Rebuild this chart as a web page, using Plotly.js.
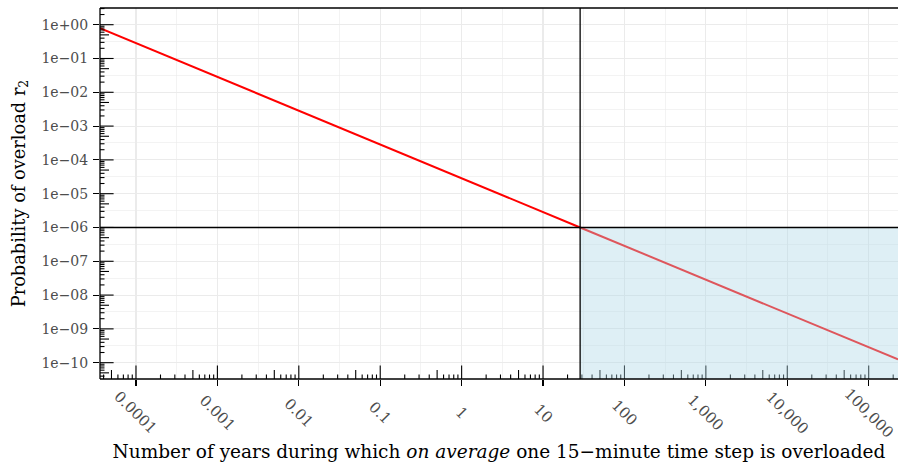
<!DOCTYPE html>
<html>
<head>
<meta charset="utf-8">
<script src="https://cdn.plot.ly/plotly-3.0.1.min.js"></script>
<style>html,body{margin:0;padding:0;background:#fff;}#chart{width:898px;height:468px;}</style>
</head>
<body>
<div id="chart"></div>
<script>
// Values
const lowYears = [3.61e-5, 28.54];      // years, red segment (left of threshold)
const lowProb  = [0.79, 1e-6];          // probability
const highYears = [28.54, 2.29e5];      // years, segment inside shaded region
const highProb  = [1e-6, 1.246e-10];
const thresholdYears = 28.54;           // vertical reference line
const thresholdProb = 1e-6;             // horizontal reference line
const xTickVals = [1e-4, 1e-3, 1e-2, 1e-1, 1, 10, 100, 1e3, 1e4, 1e5];
const xTickText = ["0.0001", "0.001", "0.01", "0.1", "1", "10", "100", "1,000", "10,000", "100,000"];
const yTickVals = [1, 1e-1, 1e-2, 1e-3, 1e-4, 1e-5, 1e-6, 1e-7, 1e-8, 1e-9, 1e-10];
const yTickText = ["1e+00", "1e\u221201", "1e\u221202", "1e\u221203", "1e\u221204", "1e\u221205", "1e\u221206", "1e\u221207", "1e\u221208", "1e\u221209", "1e\u221210"];

const xRange = [-4.442, 5.36];
const yRange = [-10.483, 0.494];
const serif = "DejaVu Serif";

const traces = [
  {x: lowYears, y: lowProb, mode: "lines", line: {color: "#FF0000", width: 2}, hoverinfo: "skip", showlegend: false},
  {x: highYears, y: highProb, mode: "lines", line: {color: "#FF0000", width: 2}, hoverinfo: "skip", showlegend: false}
];

const shapes = [];
// annotation_logticks style ticks (inside panel)
function tickLen(k) { return k === 1 ? 13.6 : (k === 5 ? 9 : 4.5); }
for (let n = -5; n <= 5; n++) {
  for (let k = 1; k <= 9; k++) {
    const v = k * Math.pow(10, n);
    const lv = Math.log10(v);
    if (lv < xRange[0] || lv > xRange[1]) continue;
    shapes.push({type: "line", xref: "x", yref: "paper", ysizemode: "pixel", yanchor: 0,
      x0: v, x1: v, y0: 0, y1: tickLen(k), line: {color: "#000", width: 1.1}, layer: "above"});
  }
}
for (let n = -11; n <= 0; n++) {
  for (let k = 1; k <= 9; k++) {
    const v = k * Math.pow(10, n);
    const lv = Math.log10(v);
    if (lv < yRange[0] || lv > yRange[1]) continue;
    shapes.push({type: "line", yref: "y", xref: "paper", xsizemode: "pixel", xanchor: 0,
      y0: v, y1: v, x0: 0, x1: tickLen(k), line: {color: "#000", width: 1.1}, layer: "above"});
  }
}
// shaded region (drawn above, semi-transparent)
shapes.push({type: "rect", xref: "x", yref: "y", x0: thresholdYears, x1: 1e7, y0: 1e-12, y1: thresholdProb,
  fillcolor: "rgba(173,216,230,0.4)", line: {width: 0}, layer: "above"});
// reference lines
shapes.push({type: "line", xref: "x", yref: "paper", x0: thresholdYears, x1: thresholdYears, y0: 0, y1: 1,
  line: {color: "#000", width: 1.3}, layer: "above"});
shapes.push({type: "line", xref: "paper", yref: "y", x0: 0, x1: 1, y0: thresholdProb, y1: thresholdProb,
  line: {color: "#000", width: 1.3}, layer: "above"});
// panel border
shapes.push({type: "line", xref: "paper", yref: "paper", x0: 0, x1: 1, y0: 0, y1: 0, line: {color: "#000", width: 1.3}, layer: "above"});
shapes.push({type: "line", xref: "paper", yref: "paper", x0: 0, x1: 1, y0: 1, y1: 1, line: {color: "#000", width: 1.3}, layer: "above"});
shapes.push({type: "line", xref: "paper", yref: "paper", x0: 0, x1: 0, y0: 0, y1: 1, line: {color: "#000", width: 1.3}, layer: "above"});

const annotations = xTickVals.map((v, i) => ({
  x: Math.log10(v), xref: "x", y: 0, yref: "paper", yshift: -34,
  xanchor: "center", yanchor: "middle", textangle: 45, showarrow: false,
  text: xTickText[i], font: {family: serif, size: 15, color: "#4D4D4D"}
}));

const minorX = [], minorY = [];
for (let n = -5; n <= 5; n++) minorX.push(Math.pow(10, n + 0.5));
for (let n = -11; n <= 0; n++) minorY.push(Math.pow(10, n + 0.5));

const layout = {
  width: 898, height: 468,
  margin: {l: 100, r: 0, t: 8, b: 89},
  paper_bgcolor: "#fff", plot_bgcolor: "#fff",
  showlegend: false,
  font: {family: serif},
  xaxis: {
    type: "log", range: xRange, tickmode: "array", tickvals: xTickVals, ticktext: xTickText,
    showticklabels: false, ticks: "outside", ticklen: 6, tickwidth: 1.1, tickcolor: "#000",
    showgrid: true, gridcolor: "#EBEBEB", gridwidth: 1.1, zeroline: false, showline: false,
    minor: {tickmode: "array", tickvals: minorX, ticks: "", showgrid: true, gridcolor: "#EBEBEB", gridwidth: 0.6},
    title: {text: "Number of years during which <i>on average</i> one 15\u2212minute time step is overloaded",
      font: {family: serif, size: 18.5, color: "#000"}, standoff: 60}
  },
  yaxis: {
    type: "log", range: yRange, tickmode: "array", tickvals: yTickVals, ticktext: yTickText,
    ticks: "outside", ticklen: 6, tickwidth: 1.1, tickcolor: "#000",
    tickfont: {family: serif, size: 14, color: "#4D4D4D"}, ticklabelstandoff: 2,
    showgrid: true, gridcolor: "#EBEBEB", gridwidth: 1.1, zeroline: false, showline: false,
    minor: {tickmode: "array", tickvals: minorY, ticks: "", showgrid: true, gridcolor: "#EBEBEB", gridwidth: 0.6},
    title: {text: "Probability of overload r<sub>2</sub>", font: {family: serif, size: 17.8, color: "#000"}, standoff: 11}
  },
  shapes: shapes,
  annotations: annotations
};

Plotly.newPlot("chart", traces, layout, {displayModeBar: false, staticPlot: true});
</script>
</body>
</html>
